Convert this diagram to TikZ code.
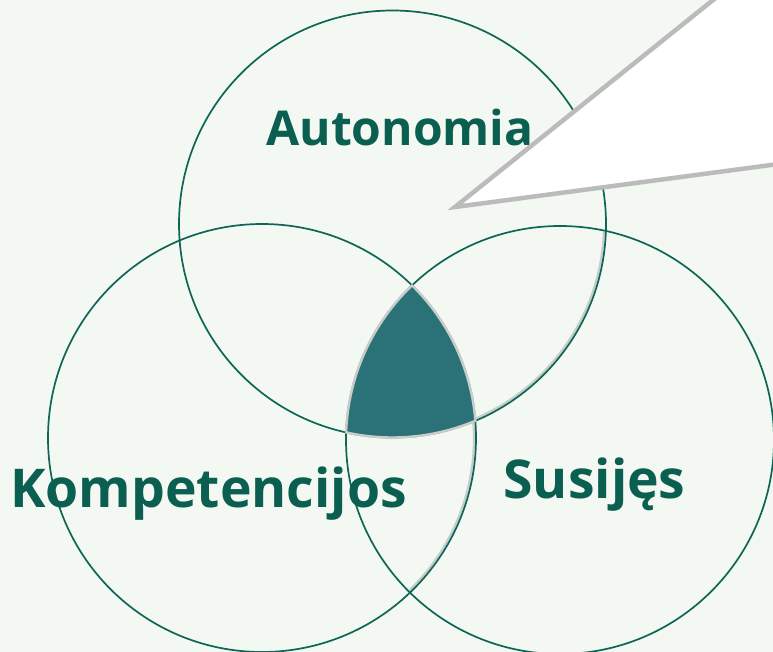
\documentclass[tikz,border=0pt]{standalone}
\usepackage{fontspec}
\setmainfont{Open Sans}
\definecolor{bg}{HTML}{F3F8F3}
\definecolor{ring}{HTML}{0D6656}
\definecolor{txt}{HTML}{0B5F50}
\definecolor{core}{HTML}{2A7277}
\definecolor{shade}{HTML}{C8CCCB}
\definecolor{bubbleline}{HTML}{BBBBBB}
\tikzset{
  ringline/.style={draw=ring, line width=1.7pt},
  label/.style={text=txt, font=\bfseries\fontsize{48}{48}\selectfont, anchor=base, inner sep=0pt},
  biglabel/.style={label, font=\bfseries\fontsize{53.5}{53.5}\selectfont},
  shadeline/.style={draw=shade, line width=2.2pt},
}
\begin{document}
\begin{tikzpicture}[x=1pt,y=-1pt]
\useasboundingbox (0,0) rectangle (773,652);
\fill[bg] (0,0) rectangle (773,652);
\clip (0,0) rectangle (773,652);
% circle centres
\coordinate (cT) at (392.5,224);
\coordinate (cL) at (262,438);
\coordinate (cR) at (560,440);
% shadow arcs
\draw[shadeline] ([shift={(2:211.5)}]cT) arc[start angle=2, end angle=67.2, radius=211.5];
\draw[shadeline] ([shift={(-4.6:212)}]cL) arc[start angle=-4.6, end angle=45.8, radius=212];
% circles
\draw[ringline] (cT) circle[radius=213.5];
\draw[ringline] (cL) circle[radius=214];
\draw[ringline] (cR) circle[radius=214];
% central region
\coordinate (p1) at (412,285.4);
\filldraw[fill=core, draw=shade, line width=2.4pt, line join=round]
  (p1) arc[start angle=-133.75, end angle=-177.97, radius=214]
       arc[start angle=102.55, end angle=67.16, radius=213.5]
       arc[start angle=-4.61, end angle=-45.5, radius=214] -- cycle;
% labels
\node[label] (auto) at (400,146) {Autonomia};
\node[biglabel] (komp) at (208.5,507) {Kompetencijos};
\node[biglabel] (sus) at (594.5,498) {Susijęs};
% bubble
\coordinate (tip) at (455,207);
\filldraw[fill=white, draw=bubbleline, line width=4.5pt, line join=miter]
  (tip) -- (790.4,-62) -- (820,-62) -- (820,158.5) -- cycle;
\end{tikzpicture}
\end{document}
